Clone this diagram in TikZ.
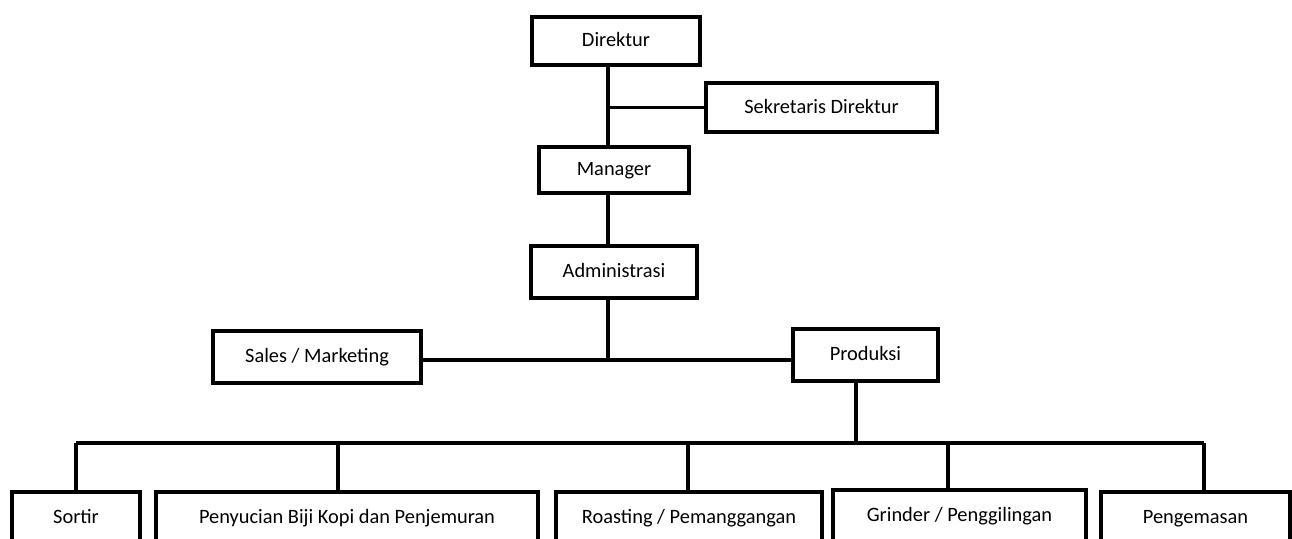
\documentclass[tikz,border=0pt]{standalone}
\usepackage{fontspec}
\setmainfont{Carlito}
\usepackage{tikz}
\usetikzlibrary{calc,positioning}

\begin{document}
\begin{tikzpicture}[
  x=0.5pt, y=-0.5pt,
  font=\fontsize{10.2}{12}\selectfont,
  orgbox/.style={
    draw,
    line width=2.3pt,
    fill=white,
    minimum height=26pt,
    inner sep=0pt,
    text height=1.6ex,
    text depth=.4ex,
    text centered
    },
  link/.style={line width=1.6pt}
]
\useasboundingbox (0,0) rectangle (1292,538);
\clip (0,0) rectangle (1292,538);

% upper part
\node [orgbox, minimum width=84pt, minimum height=24pt] (dir) at (616,41) {Direktur};
\node [orgbox, minimum width=115.5pt, minimum height=24.5pt] (sek) at (821.5,107.5) {Sekretaris Direktur};
\node [orgbox, minimum width=75pt, minimum height=23pt] (man) at (614,170) {Manager};
\node [orgbox, minimum width=83pt] (adm) at (614,272) {Administrasi};
\node [orgbox, minimum width=104pt] (sal) at (317,357) {Sales / Marketing};
\node [orgbox, minimum width=72.5pt] (pro) at (865.5,355) {Produksi};

% lower part
\node [orgbox, minimum width=64pt] (sor) at (76,518) {Sortir};
\node [orgbox, minimum width=191pt] (pen) at (347,518) {Penyucian Biji Kopi dan Penjemuran};
\node [orgbox, minimum width=133pt] (roa) at (689,518) {Roasting / Pemanggangan};
\node [orgbox, minimum width=126.5pt] (gri) at (959.5,516) {Grinder / Penggilingan};
\node [orgbox, minimum width=94.5pt] (pgm) at (1195.5,518) {Pengemasan};

\coordinate (spine) at (608,0);
\coordinate (jadm) at (608,360);
\coordinate (jpro) at (856,443);
\coordinate (jsor) at (76,443);
\coordinate (jpen) at (338,443);
\coordinate (jroa) at (688,443);
\coordinate (jgri) at (948,443);
\coordinate (jpgm) at (1204,443);

\draw [link] (dir.south -| spine) -- (man.north -| spine);
\draw [link] (sek.west -| spine) -- (sek.west);
\draw [link] (man.south -| spine) -- (adm.north -| spine);
\draw [link] (adm.south -| spine) -- (jadm);
\draw [link] (jadm -| sal.east) -- (jadm -| pro.west);
\draw [link] (jpro |- pro.south) -- (jpro);
\draw [link] (jsor) -- (jpgm);
\foreach \j/\n in {jsor/sor, jpen/pen, jroa/roa, jgri/gri, jpgm/pgm}
  \draw [link] (\j) -- (\j |- \n.north);

\end{tikzpicture}
\end{document}
